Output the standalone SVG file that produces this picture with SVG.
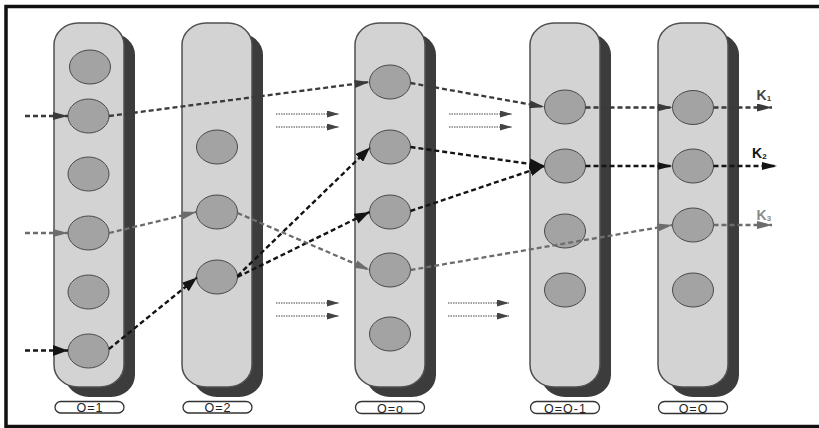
<svg xmlns="http://www.w3.org/2000/svg" width="819" height="428" viewBox="0 0 819 428">
  <style>
    .shadow { fill: #3c3c3c; }
    .col { fill: #d3d3d3; stroke: #505050; stroke-width: 1.5; }
    .node { fill: #a2a3a2; stroke: #4a4a4a; stroke-width: 1; }
    .tag { fill: #ffffff; stroke: #333333; stroke-width: 1.3; }
    .tagtext { font-family: "Liberation Sans", Arial, sans-serif; font-size: 12.5px; letter-spacing: 1px; fill: #222222; text-anchor: middle; }
    .k { font-family: "Liberation Sans", Arial, sans-serif; font-weight: bold; font-size: 14px; }
    .sub { font-size: 8px; }
    .dk { fill: none; stroke: #3a3a3a; stroke-width: 2.3; stroke-dasharray: 5 3; }
    .bk { fill: none; stroke: #141414; stroke-width: 2.4; stroke-dasharray: 5 3; }
    .gy { fill: none; stroke: #6c6c6c; stroke-width: 2.3; stroke-dasharray: 5 3; }
    .dot { fill: none; stroke: #444444; stroke-width: 1; stroke-dasharray: 1.5 1; }
  </style>
  <defs>
    <marker id="hDark" markerUnits="userSpaceOnUse" markerWidth="15" markerHeight="8" refX="15" refY="4" orient="auto">
      <path d="M0,0 L15,4 L0,8 z" fill="#3a3a3a"/>
    </marker>
    <marker id="hBlack" markerUnits="userSpaceOnUse" markerWidth="15" markerHeight="11" refX="15" refY="5.5" orient="auto">
      <path d="M0,0 L15,5.5 L0,11 z" fill="#141414"/>
    </marker>
    <marker id="hBlackS" markerUnits="userSpaceOnUse" markerWidth="15" markerHeight="8" refX="15" refY="4" orient="auto">
      <path d="M0,0 L15,4 L0,8 z" fill="#141414"/>
    </marker>
    <marker id="hGray" markerUnits="userSpaceOnUse" markerWidth="15" markerHeight="8" refX="15" refY="4" orient="auto">
      <path d="M0,0 L15,4 L0,8 z" fill="#6c6c6c"/>
    </marker>
    <marker id="hSmall" markerUnits="userSpaceOnUse" markerWidth="12" markerHeight="7" refX="12" refY="3.5" orient="auto">
      <path d="M0,0 L12,3.5 L0,7 z" fill="#444444"/>
    </marker>
  </defs>

  <!-- frame -->
  <rect x="0" y="0" width="819" height="428" fill="#ffffff"/>
  <rect x="6" y="6.5" width="830" height="420" fill="#ffffff" stroke="#111111" stroke-width="3.5"/>

  <!-- column O=1 -->
  <g id="col1">
    <rect class="shadow" x="65" y="33" width="70" height="364" rx="24" ry="22"/>
    <rect class="col" x="54" y="23" width="70" height="364" rx="24" ry="22"/>
    <ellipse class="node" cx="90" cy="67" rx="20.5" ry="17"/>
    <ellipse class="node" cx="88.5" cy="116" rx="20.5" ry="17"/>
    <ellipse class="node" cx="88.5" cy="174" rx="20.5" ry="17"/>
    <ellipse class="node" cx="88.5" cy="233" rx="20.5" ry="17"/>
    <ellipse class="node" cx="88.5" cy="292" rx="20.5" ry="17"/>
    <ellipse class="node" cx="88.5" cy="351" rx="20.5" ry="17"/>
    <rect class="tag" x="55" y="401.5" width="69" height="11.5" rx="5.75"/>
    <text class="tagtext" x="90" y="412">O=1</text>
  </g>

  <!-- column O=2 -->
  <g id="col2">
    <rect class="shadow" x="193" y="33" width="70" height="364" rx="24" ry="22"/>
    <rect class="col" x="182" y="23" width="70" height="364" rx="24" ry="22"/>
    <ellipse class="node" cx="217" cy="147" rx="20.5" ry="17"/>
    <ellipse class="node" cx="217" cy="212" rx="20.5" ry="17"/>
    <ellipse class="node" cx="217" cy="277" rx="20.5" ry="17"/>
    <rect class="tag" x="183" y="401.5" width="69" height="11.5" rx="5.75"/>
    <text class="tagtext" x="218" y="412">O=2</text>
  </g>

  <!-- column O=o -->
  <g id="col3">
    <rect class="shadow" x="366" y="33" width="70" height="364" rx="24" ry="22"/>
    <rect class="col" x="355" y="23" width="70" height="364" rx="24" ry="22"/>
    <ellipse class="node" cx="390" cy="82" rx="20.5" ry="17"/>
    <ellipse class="node" cx="390" cy="147" rx="20.5" ry="17"/>
    <ellipse class="node" cx="390" cy="212" rx="20.5" ry="17"/>
    <ellipse class="node" cx="390" cy="270" rx="20.5" ry="17"/>
    <ellipse class="node" cx="390" cy="334" rx="20.5" ry="17"/>
    <rect class="tag" x="355.5" y="401.5" width="69" height="12" rx="6"/>
    <text class="tagtext" x="390.5" y="412.5">O=o</text>
  </g>

  <!-- column O=O-1 -->
  <g id="col4">
    <rect class="shadow" x="541" y="33" width="70" height="364" rx="24" ry="22"/>
    <rect class="col" x="530" y="23" width="70" height="364" rx="24" ry="22"/>
    <ellipse class="node" cx="565" cy="107" rx="20.5" ry="17"/>
    <ellipse class="node" cx="565" cy="166" rx="20.5" ry="17"/>
    <ellipse class="node" cx="565" cy="231" rx="20.5" ry="17"/>
    <ellipse class="node" cx="565" cy="290" rx="20.5" ry="17"/>
    <rect class="tag" x="530.5" y="401.5" width="69" height="12" rx="6"/>
    <text class="tagtext" x="565.5" y="412.5">O=O-1</text>
  </g>

  <!-- column O=O -->
  <g id="col5">
    <rect class="shadow" x="669" y="33" width="70" height="364" rx="24" ry="22"/>
    <rect class="col" x="658" y="23" width="70" height="364" rx="24" ry="22"/>
    <ellipse class="node" cx="693" cy="107.5" rx="20.5" ry="17"/>
    <ellipse class="node" cx="693" cy="166" rx="20.5" ry="17"/>
    <ellipse class="node" cx="693" cy="225" rx="20.5" ry="17"/>
    <ellipse class="node" cx="693" cy="290" rx="20.5" ry="17"/>
    <rect class="tag" x="658.5" y="401.5" width="69" height="12" rx="6"/>
    <text class="tagtext" x="693.5" y="412.5">O=O</text>
  </g>

  <!-- connectors -->
  <g id="connectors">
    <!-- path ending in K1 -->
    <line class="dk" x1="25" y1="116" x2="68" y2="116" marker-end="url(#hDark)"/>
    <line class="dk" x1="109" y1="116" x2="369.5" y2="82" marker-end="url(#hDark)"/>
    <line class="dk" x1="410.5" y1="83" x2="544.5" y2="107" marker-end="url(#hDark)"/>
    <line class="dk" x1="585.5" y1="107.5" x2="672.5" y2="107.5" marker-end="url(#hDark)"/>
    <line class="dk" x1="713.5" y1="107.5" x2="772" y2="107.5" marker-end="url(#hDark)"/>

    <!-- path ending in K2 -->
    <line class="bk" x1="25" y1="350.5" x2="68" y2="350.5" marker-end="url(#hBlack)"/>
    <line class="bk" x1="109" y1="349" x2="197" y2="277.5" marker-end="url(#hBlack)"/>
    <line class="bk" x1="237.5" y1="276" x2="370" y2="147.5" marker-end="url(#hBlack)"/>
    <line class="bk" x1="237.5" y1="277" x2="369.5" y2="212" marker-end="url(#hBlack)"/>
    <line class="bk" x1="410.5" y1="147" x2="544.5" y2="166" marker-end="url(#hBlack)"/>
    <line class="bk" x1="410.5" y1="211" x2="544.5" y2="166" marker-end="url(#hBlack)"/>
    <line class="bk" x1="585.5" y1="166" x2="672.5" y2="166" marker-end="url(#hBlackS)"/>
    <line class="bk" x1="713.5" y1="166" x2="777" y2="166" marker-end="url(#hBlackS)"/>

    <!-- path ending in K3 -->
    <line class="gy" x1="25" y1="233" x2="68" y2="233" marker-end="url(#hGray)"/>
    <line class="gy" x1="109" y1="233" x2="196.5" y2="212" marker-end="url(#hGray)"/>
    <line class="gy" x1="237.5" y1="213" x2="369.5" y2="270" marker-end="url(#hGray)"/>
    <line class="gy" x1="410.5" y1="270" x2="672.5" y2="225" marker-end="url(#hGray)"/>
    <line class="gy" x1="713.5" y1="225" x2="772" y2="225" marker-end="url(#hGray)"/>

    <!-- dotted continuation arrows -->
    <line class="dot" x1="276" y1="114" x2="339" y2="114" marker-end="url(#hSmall)"/>
    <line class="dot" x1="276" y1="127" x2="339" y2="127" marker-end="url(#hSmall)"/>
    <line class="dot" x1="449" y1="114" x2="512" y2="114" marker-end="url(#hSmall)"/>
    <line class="dot" x1="449" y1="127" x2="512" y2="127" marker-end="url(#hSmall)"/>
    <line class="dot" x1="276" y1="303" x2="339" y2="303" marker-end="url(#hSmall)"/>
    <line class="dot" x1="276" y1="316" x2="339" y2="316" marker-end="url(#hSmall)"/>
    <line class="dot" x1="448" y1="303" x2="509" y2="303" marker-end="url(#hSmall)"/>
    <line class="dot" x1="448" y1="316" x2="509" y2="316" marker-end="url(#hSmall)"/>
  </g>

  <!-- output labels -->
  <g id="outputs">
    <text class="k" x="756.5" y="100" fill="#444444">K<tspan class="sub" dy="1">1</tspan></text>
    <text class="k" x="752" y="157.5" fill="#141414">K<tspan class="sub" dy="1">2</tspan></text>
    <text class="k" x="756.5" y="220" fill="#8a8a8a">K<tspan class="sub" dy="1">3</tspan></text>
  </g>
</svg>
